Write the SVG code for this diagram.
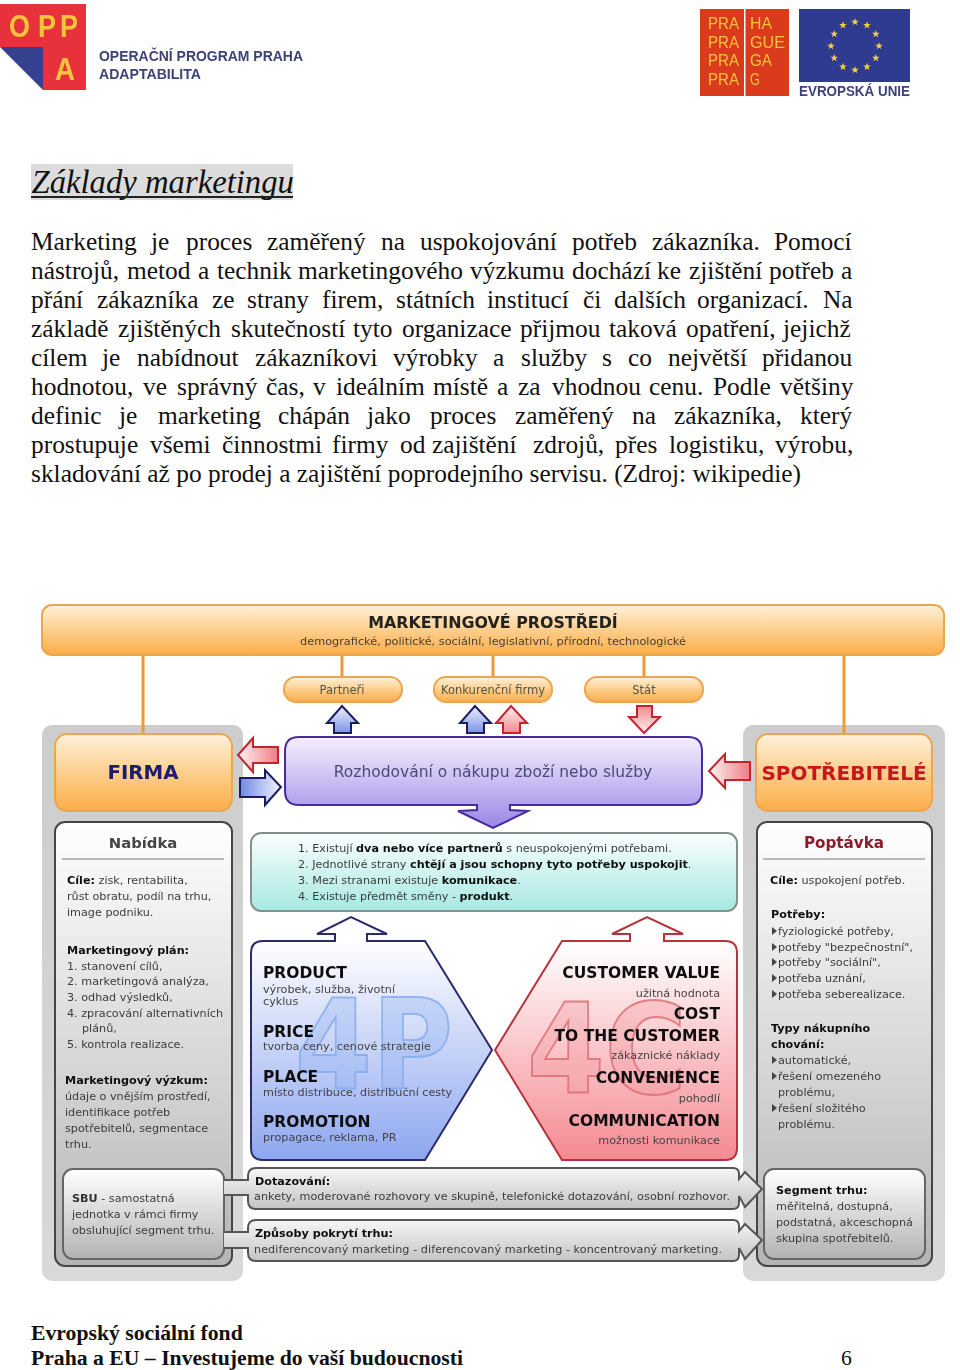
<svg xmlns="http://www.w3.org/2000/svg" width="960" height="1370" viewBox="0 0 960 1370">
<style>
text{font-family:"DejaVu Sans","Liberation Sans",sans-serif;fill:#3c3c3c}
.s{font-size:11.2px}
.b{font-weight:bold;fill:#111}
.h{font-size:15.5px;font-weight:bold;fill:#111}
.g{font-size:11.2px;fill:#444}
.e{text-anchor:end}
.m{text-anchor:middle}
.body{font-family:"Liberation Serif","Times New Roman",serif;font-size:25.4px;fill:#111}
.foot{font-family:"Liberation Serif","Times New Roman",serif;font-size:21.7px;font-weight:bold;fill:#111}
.logo{font-family:"Liberation Sans",Arial,sans-serif;fill:#f7c53c}
.lt{font-family:"Liberation Sans",Arial,sans-serif;font-weight:bold;fill:#3d4278;font-size:14px}
.wm{font-size:125px;font-weight:bold}
.or{fill:url(#orange);stroke:#eca650;stroke-width:2}
.pill{fill:url(#orange);stroke:#eca650;stroke-width:2}
.conn{stroke:#ee9a38;stroke-width:3;fill:none}
.panel{fill:url(#panel)}
.box{fill:url(#greybox);stroke:#444;stroke-width:2}
.inner{fill:url(#innerbox);stroke:#666;stroke-width:2}
.blue{fill:url(#bluea);stroke:#1c1c60;stroke-width:2}
.red{fill:url(#reda);stroke:#c8222e;stroke-width:2}
.rule{stroke:#777;stroke-width:1}
</style>
<defs>
<linearGradient id="orange" x1="0" y1="0" x2="0" y2="1"><stop offset="0" stop-color="#fff1da"/><stop offset=".55" stop-color="#fdcb85"/><stop offset="1" stop-color="#fbac48"/></linearGradient>
<linearGradient id="panel" x1="0" y1="0" x2="0" y2="1"><stop offset="0" stop-color="#cdcdcd"/><stop offset="1" stop-color="#d9d9d9"/></linearGradient>
<linearGradient id="greybox" x1="0" y1="0" x2="0" y2="1"><stop offset="0" stop-color="#ffffff"/><stop offset="1" stop-color="#b4b4b4"/></linearGradient>
<linearGradient id="innerbox" x1="0" y1="0" x2="0" y2="1"><stop offset="0" stop-color="#ffffff"/><stop offset="1" stop-color="#b2b2b2"/></linearGradient>
<linearGradient id="purple" x1="0" y1="0" x2="0" y2="1"><stop offset="0" stop-color="#f6f0ff"/><stop offset="1" stop-color="#9a86e6"/></linearGradient>
<linearGradient id="cyan" x1="0" y1="0" x2="0" y2="1"><stop offset="0" stop-color="#fbffff"/><stop offset="1" stop-color="#a6e8e2"/></linearGradient>
<linearGradient id="p4" x1="0" y1="0" x2="0" y2="1"><stop offset="0" stop-color="#ffffff"/><stop offset=".1" stop-color="#ffffff"/><stop offset="1" stop-color="#8da6f0"/></linearGradient>
<linearGradient id="c4" x1="0" y1="0" x2="0" y2="1"><stop offset="0" stop-color="#ffffff"/><stop offset=".1" stop-color="#ffffff"/><stop offset="1" stop-color="#f58a92"/></linearGradient>
<linearGradient id="bluea" x1="0" y1="0" x2="0" y2="1"><stop offset="0" stop-color="#eef1ff"/><stop offset="1" stop-color="#7c93e6"/></linearGradient>
<linearGradient id="reda" x1="0" y1="0" x2="0" y2="1"><stop offset="0" stop-color="#fff0f0"/><stop offset="1" stop-color="#f28a90"/></linearGradient>
<linearGradient id="redd" x1="0" y1="1" x2="0" y2="0"><stop offset="0" stop-color="#fff0f0"/><stop offset="1" stop-color="#f28a90"/></linearGradient>
<linearGradient id="redl" x1="0" y1="0" x2="1" y2="0"><stop offset="0" stop-color="#fff4f4"/><stop offset="1" stop-color="#ee7c84"/></linearGradient>
<linearGradient id="bluer" x1="1" y1="0" x2="0" y2="0"><stop offset="0" stop-color="#f2f4ff"/><stop offset="1" stop-color="#6f88e2"/></linearGradient>
<linearGradient id="bar" x1="0" y1="0" x2="0" y2="1"><stop offset="0" stop-color="#f6f6f6"/><stop offset="1" stop-color="#c4c4c4"/></linearGradient>
<polygon id="star" points="0,-4 .94,-1.3 3.8,-1.24 1.52,.5 2.35,3.24 0,1.6 -2.35,3.24 -1.52,.5 -3.8,-1.24 -.94,-1.3" fill="#f5d33c"/>
<polygon id="bul" points="0,-8 5,-4 0,0" fill="#444"/>
<filter id="soft" x="-2%" y="-2%" width="104%" height="104%"><feGaussianBlur stdDeviation=".45"/></filter>
</defs>
<rect width="960" height="1370" fill="#fff"/>

<g id="logo-oppa" filter="url(#soft)">
<polygon points="0,4 86,4 86,90 43,90 43,47 0,47" fill="#e8333a"/>
<polygon points="0,47 43,47 43,90" fill="#35408e"/>
<g style="font-size:31px;font-weight:bold">
<text class="logo" x="9" y="37" textLength="21" lengthAdjust="spacingAndGlyphs">O</text>
<text class="logo" x="38" y="37" textLength="18" lengthAdjust="spacingAndGlyphs">P</text>
<text class="logo" x="60" y="37" textLength="18" lengthAdjust="spacingAndGlyphs">P</text>
<text class="logo" x="55" y="80" textLength="20" lengthAdjust="spacingAndGlyphs">A</text>
</g>
<text class="lt" x="99" y="61" textLength="204" lengthAdjust="spacingAndGlyphs">OPERAČNÍ PROGRAM PRAHA</text>
<text class="lt" x="99" y="79" textLength="102" lengthAdjust="spacingAndGlyphs">ADAPTABILITA</text>
</g>
<g id="logo-praha" filter="url(#soft)">
<rect x="700" y="9" width="89" height="87" fill="#d93a1e"/>
<rect x="744" y="9" width="1.5" height="87" fill="#fff"/>
<g style="font-size:16px">
<text class="logo" x="708" y="29" textLength="31" lengthAdjust="spacingAndGlyphs">PRA</text><text class="logo" x="750" y="29" textLength="22" lengthAdjust="spacingAndGlyphs">HA</text>
<text class="logo" x="708" y="48" textLength="31" lengthAdjust="spacingAndGlyphs">PRA</text><text class="logo" x="750" y="48" textLength="35" lengthAdjust="spacingAndGlyphs">GUE</text>
<text class="logo" x="708" y="66" textLength="31" lengthAdjust="spacingAndGlyphs">PRA</text><text class="logo" x="750" y="66" textLength="22" lengthAdjust="spacingAndGlyphs">GA</text>
<text class="logo" x="708" y="85" textLength="31" lengthAdjust="spacingAndGlyphs">PRA</text><text class="logo" x="750" y="85" textLength="10" lengthAdjust="spacingAndGlyphs">G</text>
</g>
</g>
<g id="logo-eu" filter="url(#soft)">
<rect x="799" y="9" width="111" height="73" fill="#2f3a8f"/>
<use href="#star" x="855" y="22"/><use href="#star" x="867" y="25.2"/><use href="#star" x="875.8" y="34"/><use href="#star" x="879" y="46"/><use href="#star" x="875.8" y="58"/><use href="#star" x="867" y="66.8"/><use href="#star" x="855" y="70"/><use href="#star" x="843" y="66.8"/><use href="#star" x="834.2" y="58"/><use href="#star" x="831" y="46"/><use href="#star" x="834.2" y="34"/><use href="#star" x="843" y="25.2"/>
<text class="lt" x="799" y="96" textLength="111" lengthAdjust="spacingAndGlyphs">EVROPSKÁ UNIE</text>
</g>

<g id="heading">
<rect x="31" y="164" width="262" height="36" fill="#dcdcdc"/>
<text x="31.5" y="193" style="font-family:'Liberation Serif','Times New Roman',serif;font-style:italic;font-size:32.7px;fill:#111">Základy marketingu</text>
<rect x="31" y="196" width="262" height="2" fill="#222"/>
</g>

<g id="paragraph">
<text class="body" y="250"><tspan x="31">Marketing</tspan><tspan x="151">je</tspan><tspan x="186">proces</tspan><tspan x="267">zaměřený</tspan><tspan x="381">na</tspan><tspan x="420">uspokojování</tspan><tspan x="572">potřeb</tspan><tspan x="652">zákazníka.</tspan><tspan x="774">Pomocí</tspan></text>
<text class="body" y="279"><tspan x="31">nástrojů,</tspan><tspan x="127">metod</tspan><tspan x="198">a</tspan><tspan x="217">technik</tspan><tspan x="298">marketingového</tspan><tspan x="470">výzkumu</tspan><tspan x="572">dochází</tspan><tspan x="657">ke</tspan><tspan x="689">zjištění</tspan><tspan x="769">potřeb</tspan><tspan x="841">a</tspan></text>
<text class="body" y="308"><tspan x="31">přání</tspan><tspan x="97">zákazníka</tspan><tspan x="212">ze</tspan><tspan x="247">strany</tspan><tspan x="322">firem,</tspan><tspan x="396">státních</tspan><tspan x="487">institucí</tspan><tspan x="583">či</tspan><tspan x="614">dalších</tspan><tspan x="697">organizací.</tspan><tspan x="823">Na</tspan></text>
<text class="body" y="337"><tspan x="31">základě</tspan><tspan x="118">zjištěných</tspan><tspan x="231">skutečností</tspan><tspan x="353">tyto</tspan><tspan x="402">organizace</tspan><tspan x="520">přijmou</tspan><tspan x="609">taková</tspan><tspan x="686">opatření,</tspan><tspan x="783">jejichž</tspan></text>
<text class="body" y="366"><tspan x="31">cílem</tspan><tspan x="102">je</tspan><tspan x="137">nabídnout</tspan><tspan x="255">zákazníkovi</tspan><tspan x="393">výrobky</tspan><tspan x="493">a</tspan><tspan x="521">služby</tspan><tspan x="602">s</tspan><tspan x="628">co</tspan><tspan x="668">největší</tspan><tspan x="762">přidanou</tspan></text>
<text class="body" y="395"><tspan x="31">hodnotou,</tspan><tspan x="143">ve</tspan><tspan x="177">správný</tspan><tspan x="266">čas,</tspan><tspan x="313">v</tspan><tspan x="336">ideálním</tspan><tspan x="433">místě</tspan><tspan x="497">a</tspan><tspan x="518">za</tspan><tspan x="552">vhodnou</tspan><tspan x="649">cenu.</tspan><tspan x="713">Podle</tspan><tspan x="780">většiny</tspan></text>
<text class="body" y="424"><tspan x="31">definic</tspan><tspan x="119">je</tspan><tspan x="158">marketing</tspan><tspan x="278">chápán</tspan><tspan x="367">jako</tspan><tspan x="430">proces</tspan><tspan x="515">zaměřený</tspan><tspan x="632">na</tspan><tspan x="674">zákazníka,</tspan><tspan x="800">který</tspan></text>
<text class="body" y="453"><tspan x="31">prostupuje</tspan><tspan x="150">všemi</tspan><tspan x="222">činnostmi</tspan><tspan x="332">firmy</tspan><tspan x="400">od</tspan><tspan x="432">zajištění</tspan><tspan x="533">zdrojů,</tspan><tspan x="615">přes</tspan><tspan x="669">logistiku,</tspan><tspan x="775">výrobu,</tspan></text>
<text class="body" x="31" y="482">skladování až po prodej a zajištění poprodejního servisu. (Zdroj: wikipedie)</text>
</g>

<g id="diagram" filter="url(#soft)">
<g id="panel-firma"><rect class="panel" x="42" y="725" width="201" height="556" rx="10"/></g>
<g id="panel-spotrebitele"><rect class="panel" x="743" y="725" width="202" height="556" rx="10"/></g>

<g id="connectors">
<line class="conn" x1="143" y1="655" x2="143" y2="734"/>
<line class="conn" x1="342" y1="655" x2="342" y2="677"/>
<line class="conn" x1="493" y1="655" x2="493" y2="677"/>
<line class="conn" x1="644" y1="655" x2="644" y2="677"/>
<line class="conn" x1="844" y1="655" x2="844" y2="734"/>
<polygon points="278,747 278,763 253,763 253,772 238,755 253,738 253,747" fill="url(#redl)" stroke="#c8222e" stroke-width="2"/>
<polygon points="240,778 240,797 265,797 265,805 281,787 265,770 265,778" fill="url(#bluer)" stroke="#1c1c60" stroke-width="2"/>
<polygon points="750,762 750,780 725,780 725,788 709,771 725,754 725,762" fill="url(#redl)" stroke="#c8222e" stroke-width="2"/>
<polygon class="blue" points="334,733 351,733 351,723 358,723 342,706 327,723 334,723"/>
<polygon class="blue" points="467,733 484,733 484,723 491,723 475,706 460,723 467,723"/>
<polygon class="red" points="503,733 520,733 520,723 527,723 511,706 496,723 503,723"/>
<polygon points="637,706 652,706 652,717 660,717 644,733 629,717 637,717" fill="url(#redd)" stroke="#c8222e" stroke-width="2"/>
</g>

<g id="node-prostredi">
<rect class="or" x="42" y="605" width="902" height="50" rx="10"/>
<text class="m" x="493" y="628" style="font-size:15.85px;font-weight:bold;fill:#222">MARKETINGOVÉ PROSTŘEDÍ</text>
<text class="m" x="493" y="645" style="font-size:11.3px;fill:#4a4030">demografické, politické, sociální, legislativní, přírodní, technologické</text>
</g>
<g id="node-partneri"><rect class="pill" x="284" y="677" width="118" height="25" rx="12"/><text class="m" x="342" y="694" style="font-size:11.5px;fill:#554">Partneři</text></g>
<g id="node-konkurence"><rect class="pill" x="434" y="677" width="118" height="25" rx="12"/><text class="m" x="493" y="694" style="font-size:11.5px;fill:#554">Konkurenční firmy</text></g>
<g id="node-stat"><rect class="pill" x="585" y="677" width="118" height="25" rx="12"/><text class="m" x="644" y="694" style="font-size:11.5px;fill:#554">Stát</text></g>

<g id="node-firma"><rect class="or" x="55" y="734" width="177" height="77" rx="12"/><text class="m" x="143" y="779" style="font-size:19.8px;font-weight:bold;fill:#1c1c6c">FIRMA</text></g>
<g id="node-spotrebitele"><rect class="or" x="756" y="734" width="176" height="77" rx="12"/><text class="m" x="844" y="780" style="font-size:20px;font-weight:bold;fill:#c8161f">SPOTŘEBITELÉ</text></g>

<g id="node-rozhodovani">
<path d="M299,737 L688,737 Q702,737 702,751 L702,791 Q702,805 688,805 L510,805 L510,810 L528,811 L493,828 L458,811 L477,810 L477,805 L299,805 Q285,805 285,791 L285,751 Q285,737 299,737 Z" fill="url(#purple)" stroke="#4a2c9c" stroke-width="2"/>
<text class="m" x="493" y="777" style="font-size:15.5px;fill:#4a4a7c">Rozhodování o nákupu zboží nebo služby</text>
</g>

<g id="node-podminky">
<rect x="251" y="833" width="486" height="78" rx="10" fill="url(#cyan)" stroke="#85908e" stroke-width="2"/>
<text class="s" x="298" y="852">1. Existují <tspan class="b">dva nebo více partnerů</tspan> s neuspokojenými potřebami.</text>
<text class="s" x="298" y="868">2. Jednotlivé strany <tspan class="b">chtějí a jsou schopny tyto potřeby uspokojit</tspan>.</text>
<text class="s" x="298" y="884">3. Mezi stranami existuje <tspan class="b">komunikace</tspan>.</text>
<text class="s" x="298" y="900">4. Existuje předmět směny - <tspan class="b">produkt</tspan>.</text>
</g>

<g id="node-nabidka">
<rect class="box" x="55" y="822" width="177" height="444" rx="10"/>
<text class="m" x="143" y="848" style="font-size:14.8px;font-weight:bold;fill:#444">Nabídka</text>
<line class="rule" x1="62" y1="859" x2="224" y2="859"/>
<text class="s" x="67" y="884"><tspan class="b">Cíle:</tspan> zisk, rentabilita,</text>
<text class="s" x="67" y="900">růst obratu, podíl na trhu,</text>
<text class="s" x="67" y="916">image podniku.</text>
<text class="s b" x="67" y="954">Marketingový plán:</text>
<text class="s" x="67" y="970">1. stanovení cílů,</text>
<text class="s" x="67" y="985">2. marketingová analýza,</text>
<text class="s" x="67" y="1001">3. odhad výsledků,</text>
<text class="s" x="67" y="1017">4. zpracování alternativních</text>
<text class="s" x="82" y="1032">plánů,</text>
<text class="s" x="67" y="1048">5. kontrola realizace.</text>
<text class="s b" x="65" y="1084">Marketingový výzkum:</text>
<text class="s" x="65" y="1100">údaje o vnějším prostředí,</text>
<text class="s" x="65" y="1116">identifikace potřeb</text>
<text class="s" x="65" y="1132">spotřebitelů, segmentace</text>
<text class="s" x="65" y="1148">trhu.</text>
</g>
<g id="node-poptavka">
<rect class="box" x="757" y="822" width="175" height="444" rx="10"/>
<text class="m" x="844" y="848" style="font-size:15.2px;font-weight:bold;fill:#8c1a2c">Poptávka</text>
<line class="rule" x1="763" y1="859" x2="925" y2="859"/>
<text class="s" x="770" y="884"><tspan class="b">Cíle:</tspan> uspokojení potřeb.</text>
<text class="s b" x="771" y="918">Potřeby:</text>
<use href="#bul" x="772" y="935"/><text class="s" x="778" y="935">fyziologické potřeby,</text>
<use href="#bul" x="772" y="951"/><text class="s" x="778" y="951">potřeby "bezpečnostní",</text>
<use href="#bul" x="772" y="966"/><text class="s" x="778" y="966">potřeby "sociální",</text>
<use href="#bul" x="772" y="982"/><text class="s" x="778" y="982">potřeba uznání,</text>
<use href="#bul" x="772" y="998"/><text class="s" x="778" y="998">potřeba seberealizace.</text>
<text class="s b" x="771" y="1032">Typy nákupního</text>
<text class="s b" x="771" y="1048">chování:</text>
<use href="#bul" x="772" y="1064"/><text class="s" x="778" y="1064">automatické,</text>
<use href="#bul" x="772" y="1080"/><text class="s" x="778" y="1080">řešení omezeného</text>
<text class="s" x="778" y="1096">problému,</text>
<use href="#bul" x="772" y="1112"/><text class="s" x="778" y="1112">řešení složitého</text>
<text class="s" x="778" y="1128">problému.</text>
</g>

<g id="node-4p">
<path d="M251,953 Q251,941 263,941 L335,941 L335,934 L317,934 L351,917 L387,934 L367,934 L367,941 L425,941 L492,1050 L425,1160 L263,1160 Q251,1160 251,1148 Z" fill="url(#p4)" stroke="#2c2c6c" stroke-width="2"/>
<text class="wm" x="295" y="1089" textLength="158" lengthAdjust="spacingAndGlyphs" style="fill:#8fb2f2;fill-opacity:.35;stroke:#82aaee;stroke-width:2;stroke-opacity:.8">4P</text>
<text class="h" x="263" y="978">PRODUCT</text>
<text class="g" x="263" y="993">výrobek, služba, životní</text>
<text class="g" x="263" y="1005">cyklus</text>
<text class="h" x="263" y="1037">PRICE</text>
<text class="g" x="263" y="1050">tvorba ceny, cenové strategie</text>
<text class="h" x="263" y="1082">PLACE</text>
<text class="g" x="263" y="1096">místo distribuce, distribuční cesty</text>
<text class="h" x="263" y="1127">PROMOTION</text>
<text class="g" x="263" y="1141">propagace, reklama, PR</text>
</g>
<g id="node-4c">
<path d="M725,941 Q737,941 737,953 L737,1148 Q737,1160 725,1160 L562,1160 L495,1050 L562,941 L630,941 L630,934 L612,934 L647,917 L683,934 L664,934 L664,941 Z" fill="url(#c4)" stroke="#b8323c" stroke-width="2"/>
<text class="wm" x="527" y="1093" textLength="160" lengthAdjust="spacingAndGlyphs" style="fill:#ee9a9e;fill-opacity:.35;stroke:#dc6a72;stroke-width:2;stroke-opacity:.8">4C</text>
<text class="h e" x="720" y="978">CUSTOMER VALUE</text>
<text class="g e" x="720" y="997">užitná hodnota</text>
<text class="h e" x="720" y="1019">COST</text>
<text class="h e" x="720" y="1041">TO THE CUSTOMER</text>
<text class="g e" x="720" y="1059">zákaznické náklady</text>
<text class="h e" x="720" y="1083">CONVENIENCE</text>
<text class="g e" x="720" y="1102">pohodlí</text>
<text class="h e" x="720" y="1126">COMMUNICATION</text>
<text class="g e" x="720" y="1144">možnosti komunikace</text>
</g>

<g id="node-sbu">
<rect class="inner" x="63" y="1169" width="161" height="90" rx="10"/>
<text class="s" x="72" y="1202"><tspan class="b" style="fill:#333">SBU</tspan> - samostatná</text>
<text class="s" x="72" y="1218">jednotka v rámci firmy</text>
<text class="s" x="72" y="1234">obsluhující segment trhu.</text>
</g>
<g id="node-segment">
<rect class="inner" x="764" y="1169" width="161" height="90" rx="10"/>
<text class="s b" x="776" y="1194">Segment trhu:</text>
<text class="s" x="776" y="1210">měřitelná, dostupná,</text>
<text class="s" x="776" y="1226">podstatná, akceschopná</text>
<text class="s" x="776" y="1242">skupina spotřebitelů.</text>
</g>

<g id="node-dotazovani">
<path d="M224,1180 L248,1180 L248,1176 Q248,1168 256,1168 L733,1168 Q739,1168 739,1174 L739,1179 L745,1172 L762,1189 L745,1207 L739,1196 L739,1203 Q739,1209 733,1209 L256,1209 Q248,1209 248,1201 L248,1195 L224,1195" fill="url(#bar)" stroke="#555" stroke-width="2"/>
<text class="s b" x="255" y="1185">Dotazování:</text>
<text class="s" x="254" y="1200" textLength="476">ankety, moderované rozhovory ve skupině, telefonické dotazování, osobní rozhovor.</text>
</g>
<g id="node-pokryti">
<path d="M224,1232 L248,1232 L248,1228 Q248,1220 256,1220 L733,1220 Q739,1220 739,1226 L739,1231 L745,1224 L762,1240 L745,1259 L739,1248 L739,1255 Q739,1261 733,1261 L256,1261 Q248,1261 248,1253 L248,1248 L224,1248" fill="url(#bar)" stroke="#555" stroke-width="2"/>
<text class="s b" x="255" y="1237">Způsoby pokrytí trhu:</text>
<text class="s" x="254" y="1253" textLength="468">nediferencovaný marketing - diferencovaný marketing - koncentrovaný marketing.</text>
</g>
</g>

<g id="footer">
<text class="foot" x="31" y="1340">Evropský sociální fond</text>
<text class="foot" x="31" y="1365">Praha a EU – Investujeme do vaší budoucnosti</text>
<text class="foot" x="841" y="1365" style="font-weight:normal">6</text>
</g>
</svg>
